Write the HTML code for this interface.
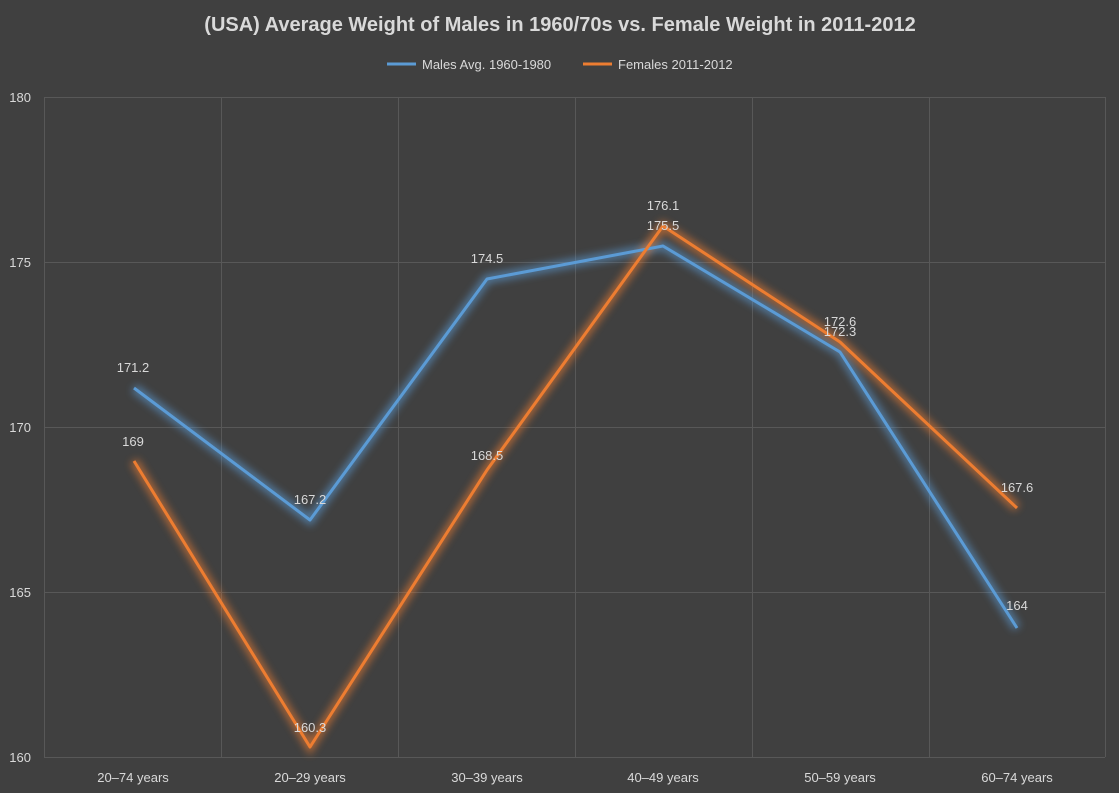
<!DOCTYPE html>
<html><head><meta charset="utf-8"><style>
html,body{margin:0;padding:0;background:#404040;}
svg{display:block;font-family:"Liberation Sans",sans-serif;}
</style></head><body>
<svg width="1119" height="793" viewBox="0 0 1119 793">
<defs>
<filter id="gb" x="-20%" y="-20%" width="140%" height="140%"><feGaussianBlur stdDeviation="4"/></filter>
</defs>
<rect width="1119" height="793" fill="#404040"/>
<text x="560" y="31" text-anchor="middle" fill="#d9d9d9" font-size="20" font-weight="bold">(USA) Average Weight of Males in 1960/70s vs. Female Weight in 2011-2012</text>
<line x1="387" y1="64" x2="416" y2="64" stroke="#5b9bd5" stroke-width="3"/>
<text x="422" y="69" fill="#d9d9d9" font-size="13">Males Avg. 1960-1980</text>
<line x1="583" y1="64" x2="612" y2="64" stroke="#ed7d31" stroke-width="3"/>
<text x="618" y="69" fill="#d9d9d9" font-size="13">Females 2011-2012</text>
<g stroke="#585858" stroke-width="1">
<line x1="44" y1="97.5" x2="1105" y2="97.5"/>
<line x1="44" y1="262.5" x2="1105" y2="262.5"/>
<line x1="44" y1="427.5" x2="1105" y2="427.5"/>
<line x1="44" y1="592.5" x2="1105" y2="592.5"/>
<line x1="44" y1="757.5" x2="1105" y2="757.5"/>
<line x1="44.5" y1="97" x2="44.5" y2="757"/>
<line x1="221.5" y1="97" x2="221.5" y2="757"/>
<line x1="398.5" y1="97" x2="398.5" y2="757"/>
<line x1="575.5" y1="97" x2="575.5" y2="757"/>
<line x1="752.5" y1="97" x2="752.5" y2="757"/>
<line x1="929.5" y1="97" x2="929.5" y2="757"/>
<line x1="1105.5" y1="97" x2="1105.5" y2="757"/>
</g>
<g fill="#d9d9d9" font-size="13" text-anchor="end">
<text x="31" y="102">180</text>
<text x="31" y="267">175</text>
<text x="31" y="432">170</text>
<text x="31" y="597">165</text>
<text x="31" y="762">160</text>
</g>
<g fill="#d9d9d9" font-size="13" text-anchor="middle">
<text x="133" y="782">20–74 years</text>
<text x="310" y="782">20–29 years</text>
<text x="487" y="782">30–39 years</text>
<text x="663" y="782">40–49 years</text>
<text x="840" y="782">50–59 years</text>
<text x="1017" y="782">60–74 years</text>
</g>
<polyline points="134,388 310,520 487,279 663,246 840,352 1017,628" fill="none" stroke="#5b9bd5" stroke-width="9" opacity="0.6" filter="url(#gb)"/>
<polyline points="134,461 310,747 487,470 663,226 840,342 1017,508" fill="none" stroke="#ed7d31" stroke-width="9" opacity="0.6" filter="url(#gb)"/>
<polyline points="134,388 310,520 487,279 663,246 840,352 1017,628" fill="none" stroke="#5b9bd5" stroke-width="3" stroke-linejoin="round"/>
<polyline points="134,461 310,747 487,470 663,226 840,342 1017,508" fill="none" stroke="#ed7d31" stroke-width="3" stroke-linejoin="round"/>
<g fill="#d9d9d9" font-size="13" text-anchor="middle">
<text x="133" y="372">171.2</text>
<text x="310" y="504">167.2</text>
<text x="487" y="263">174.5</text>
<text x="663" y="230">175.5</text>
<text x="840" y="336">172.3</text>
<text x="1017" y="610">164</text>
<text x="133" y="446">169</text>
<text x="310" y="732">160.3</text>
<text x="487" y="460">168.5</text>
<text x="663" y="210">176.1</text>
<text x="840" y="326">172.6</text>
<text x="1017" y="492">167.6</text>
</g>
</svg>
</body></html>
